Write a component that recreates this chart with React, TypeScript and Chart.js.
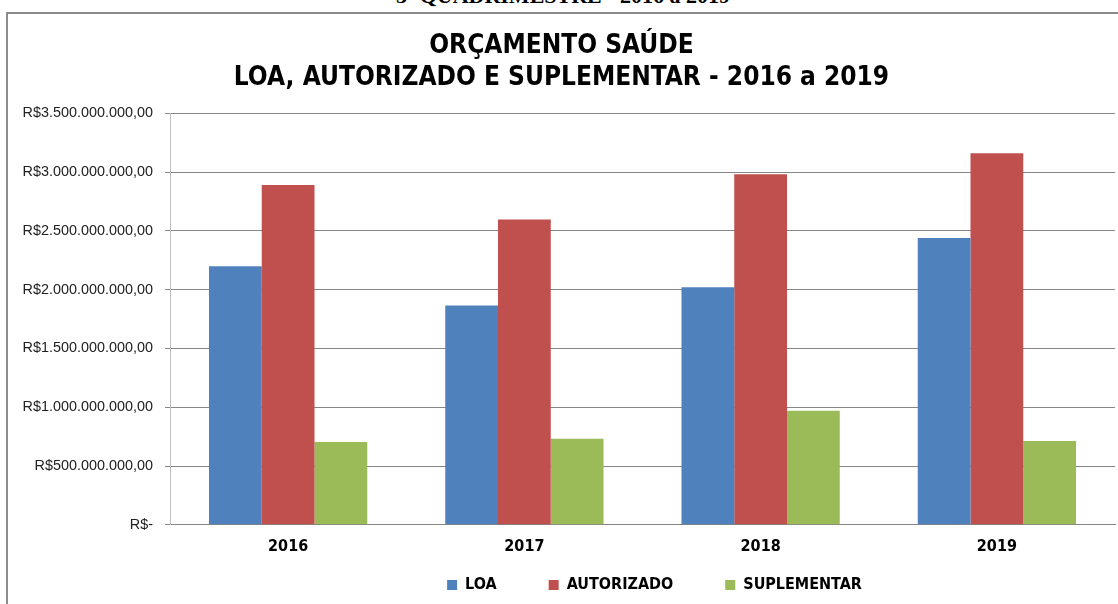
import React, { useEffect, useRef } from "react";
import { Chart, registerables } from "chart.js";

Chart.register(...registerables);

const categories = ["2016", "2017", "2018", "2019"];
const loa = [2200000000, 1865000000, 2020000000, 2440000000];
const autorizado = [2890000000, 2598000000, 2982000000, 3160000000];
const suplementar = [705000000, 733000000, 970000000, 712000000];
const yTicks = [0, 500000000, 1000000000, 1500000000, 2000000000, 2500000000, 3000000000, 3500000000];

const titleLines = ["ORÇAMENTO SAÚDE", "LOA, AUTORIZADO E SUPLEMENTAR - 2016 a 2019"];
const pageHeading = "3º QUADRIMESTRE - 2016 a 2019";

const NARROW = "'Liberation Sans Narrow', 'DejaVu Sans Condensed', sans-serif";

function formatBRL(v: number): string {
  if (v === 0) return "R$-";
  const s = Math.round(v).toString().replace(/\B(?=(\d{3})+(?!\d))/g, ".");
  return "R$" + s + ",00";
}

// Legend: wide horizontal spacing between items but compact height, shifted under the plot area
const LEGEND_PAD = 52;
const LEGEND_HEIGHT = 32;
const LEGEND_ITEM_TOP = 563;
const LEGEND_SHIFT_X = 93;
const legendTweak = {
  id: "legendTweak",
  beforeUpdate(chart: any) {
    const lg = chart.legend;
    if (lg && !lg.__patched) {
      const orig = lg.fit.bind(lg);
      lg.fit = function () {
        orig();
        this.height = LEGEND_HEIGHT;
      };
      lg.__patched = true;
    }
  },
  afterLayout(chart: any) {
    const lg = chart.legend;
    if (!lg) return;
    lg.top = LEGEND_ITEM_TOP - LEGEND_PAD;
    lg.bottom = chart.height;
    lg.height = lg.bottom - lg.top;
    lg.left += LEGEND_SHIFT_X;
    lg.right += LEGEND_SHIFT_X;
  },
};

export default function App() {
  const ref = useRef<HTMLCanvasElement | null>(null);

  useEffect(() => {
    document.body.style.margin = "0";
    const canvas = ref.current;
    if (!canvas) return;
    const chart = new Chart(canvas, {
      type: "bar",
      data: {
        labels: categories,
        datasets: [
          { label: "LOA", data: loa, backgroundColor: "#4F81BD", borderWidth: 0 },
          { label: "AUTORIZADO", data: autorizado, backgroundColor: "#C0504D", borderWidth: 0 },
          { label: "SUPLEMENTAR", data: suplementar, backgroundColor: "#9BBB59", borderWidth: 0 },
        ],
      },
      options: {
        responsive: false,
        animation: false,
        devicePixelRatio: 1,
        layout: { padding: { left: 0, right: 3, top: 0, bottom: 4 } },
        datasets: { bar: { categoryPercentage: 0.67, barPercentage: 1 } },
        plugins: {
          title: {
            display: true,
            text: titleLines,
            color: "#000",
            font: { family: NARROW, size: 26, weight: "bold", lineHeight: 1.2 },
            padding: { top: 17, bottom: 20 },
          },
          legend: {
            position: "bottom",
            labels: {
              boxWidth: 10,
              boxHeight: 10,
              padding: LEGEND_PAD,
              color: "#000",
              font: { family: NARROW, size: 16, weight: "bold" },
            },
          },
          tooltip: { enabled: false },
        },
        scales: {
          x: {
            grid: { display: false, drawTicks: false },
            border: { display: true, color: "#868686", width: 1 },
            ticks: {
              color: "#000",
              padding: 12,
              font: { family: NARROW, size: 16, weight: "bold" },
            },
          },
          y: {
            min: 0,
            max: 3500000000,
            afterBuildTicks: (scale: any) => {
              scale.ticks = yTicks.map((v) => ({ value: v }));
            },
            afterFit: (scale: any) => {
              scale.width = 162;
            },
            grid: { color: "#868686", lineWidth: 1, tickLength: 5, drawTicks: true },
            border: { display: true, color: "#BFBFBF", width: 1 },
            ticks: {
              color: "#222",
              padding: 12,
              font: { family: "'Liberation Sans', sans-serif", size: 14.4 },
              callback: (v: any) => formatBRL(Number(v)),
            },
          },
        },
      },
      plugins: [legendTweak],
    } as any);
    return () => chart.destroy();
  }, []);

  return (
    <div style={{ position: "relative", width: 1118, height: 604, overflow: "hidden", background: "#fff" }}>
      <div
        style={{
          position: "absolute",
          top: -17,
          left: 0,
          width: 1126,
          textAlign: "center",
          fontFamily: "'Liberation Serif', serif",
          fontWeight: "bold",
          fontSize: 22,
          color: "#000",
        }}
      >
        {pageHeading}
      </div>
      <div
        style={{
          position: "absolute",
          left: 6,
          top: 12,
          width: 1120,
          height: 600,
          border: "2px solid #8C8C8C",
          boxSizing: "border-box",
        }}
      />
      <canvas
        ref={ref}
        width={1110}
        height={590}
        style={{ position: "absolute", left: 8, top: 14, width: 1110, height: 590 }}
      />
    </div>
  );
}
